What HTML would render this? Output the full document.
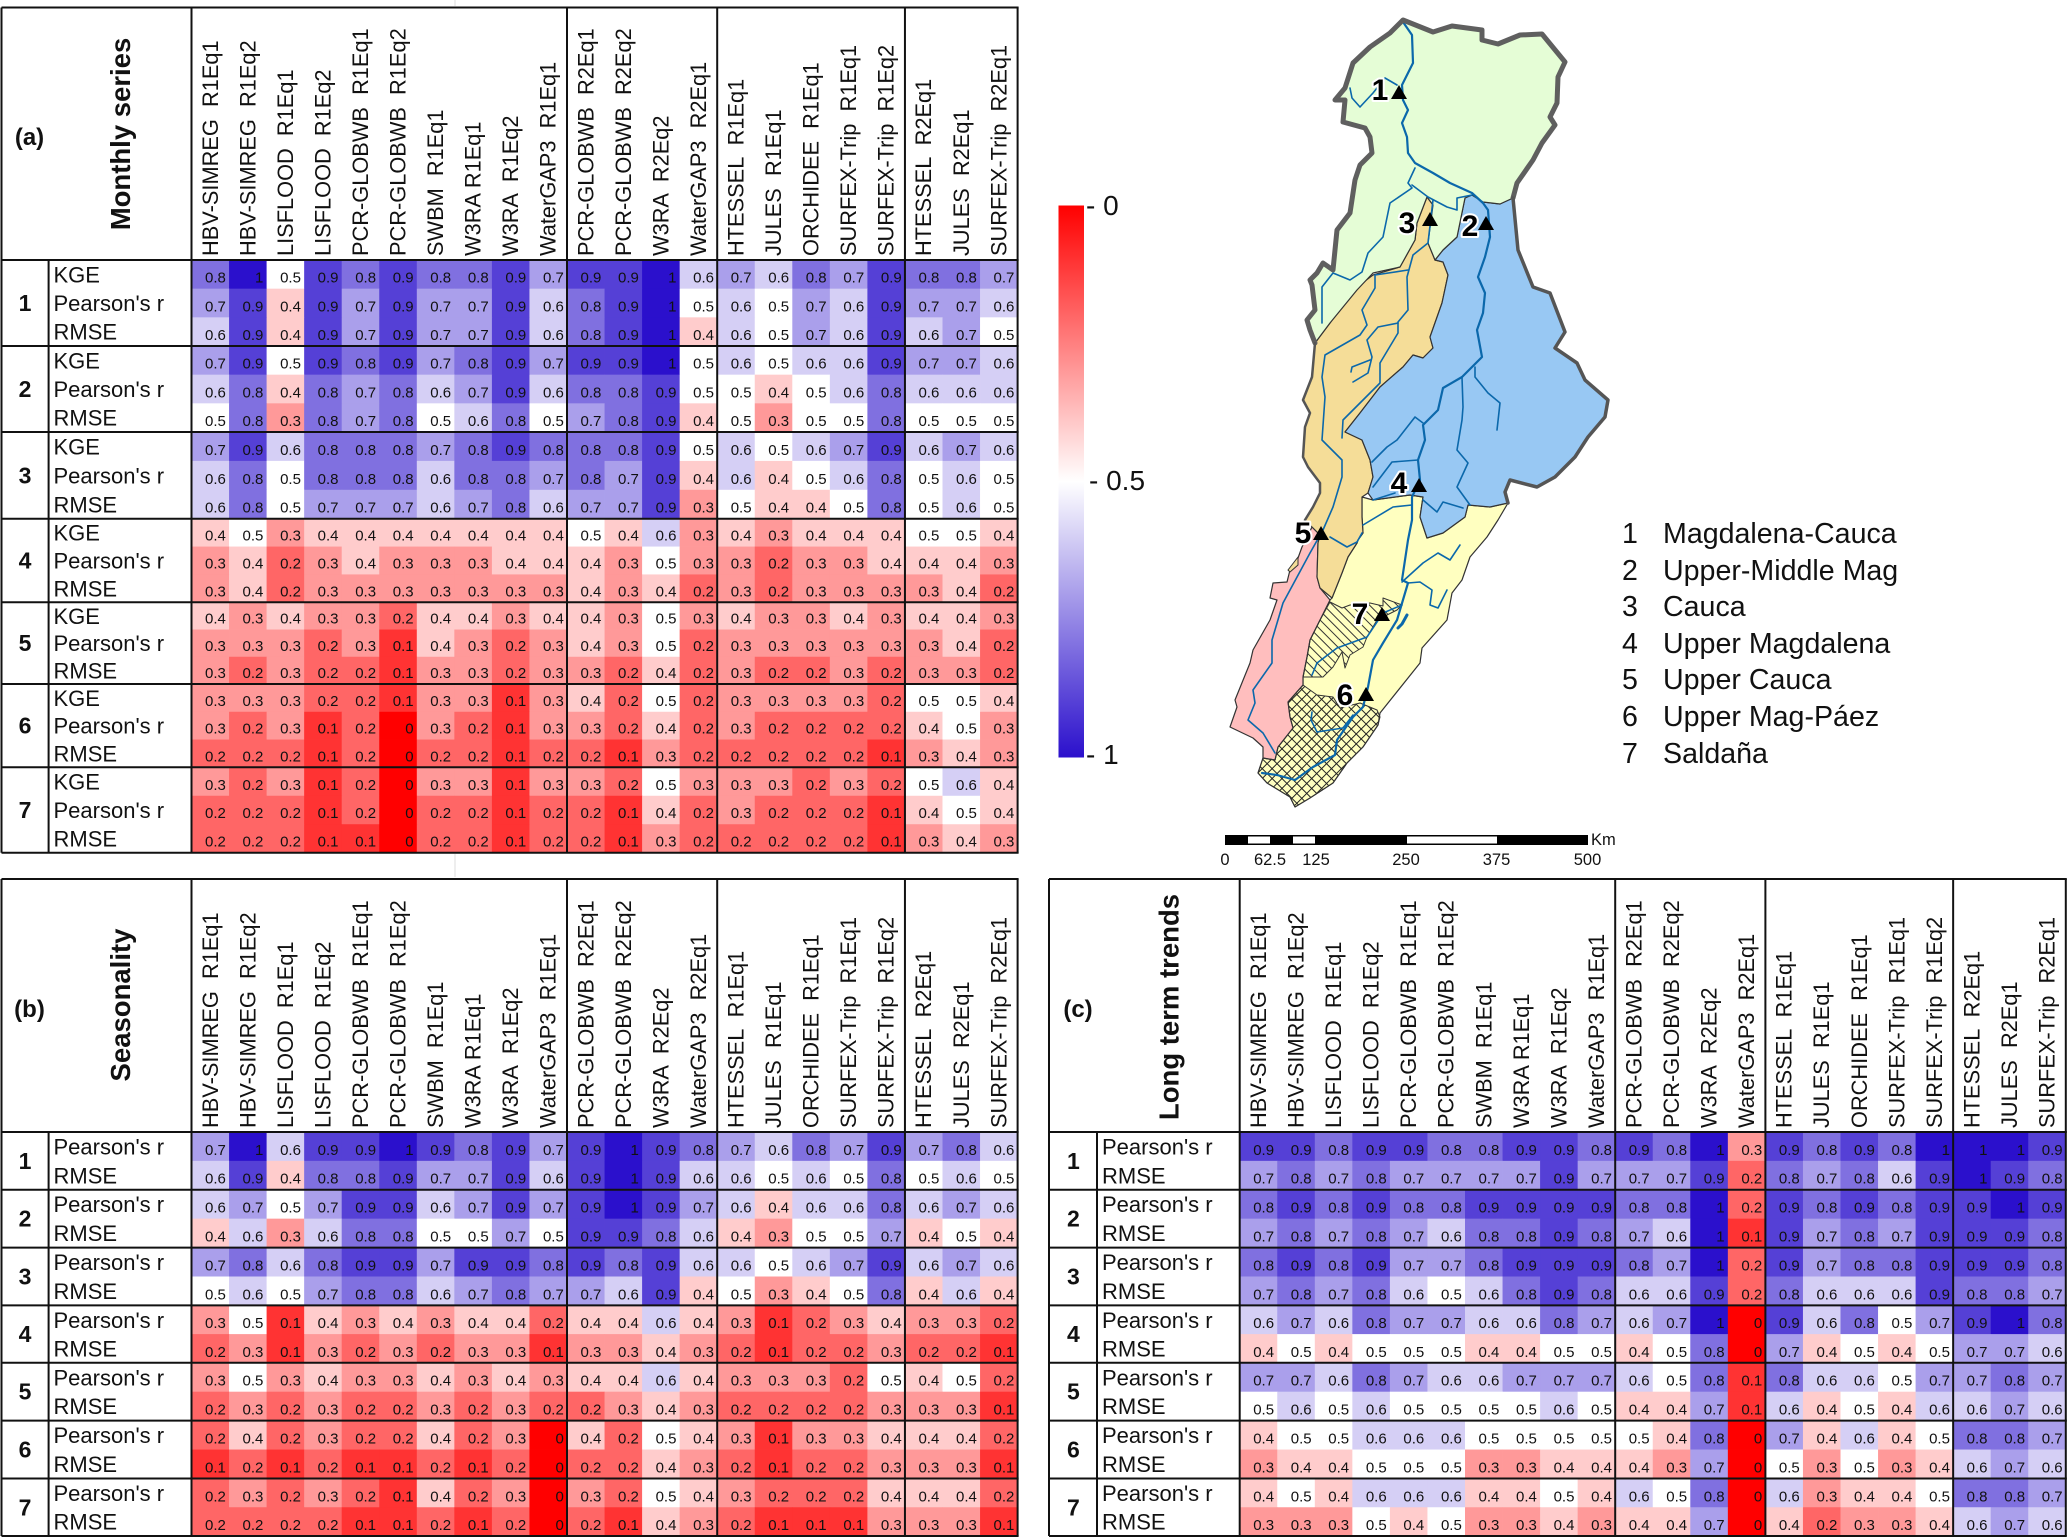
<!DOCTYPE html>
<html lang="en">
<head>
<meta charset="utf-8">
<title>Model skill heatmaps and Magdalena-Cauca basin map</title>
<style>
html,body{margin:0;padding:0;background:#fff;}
svg{display:block;}
text{font-family:"Liberation Sans",sans-serif;fill:#111;white-space:pre;}
</style>
</head>
<body>
<svg id="figure" xmlns="http://www.w3.org/2000/svg" width="2067" height="1537" viewBox="0 0 2067 1537">
<defs>
<linearGradient id="colorbar-gradient" x1="0" y1="0" x2="0" y2="1">
<stop offset="0" stop-color="#ff0000"/>
<stop offset="0.5" stop-color="#ffffff"/>
<stop offset="1" stop-color="#2b10cc"/>
</linearGradient>
<pattern id="hatch-single" patternUnits="userSpaceOnUse" width="6.5" height="6.5" patternTransform="rotate(-45)">
<line x1="1" y1="0" x2="1" y2="6.5" stroke="#333" stroke-width="1"/>
</pattern>
<pattern id="hatch-cross" patternUnits="userSpaceOnUse" width="7" height="7" patternTransform="rotate(45)">
<line x1="1" y1="0" x2="1" y2="7" stroke="#222" stroke-width="1"/>
<line x1="0" y1="1" x2="7" y2="1" stroke="#222" stroke-width="1"/>
</pattern>
</defs>

<rect width="2067" height="1537" fill="#ffffff"/>
<line x1="455" y1="0" x2="455" y2="6" stroke="#ddd" stroke-width="1"/>
<line x1="455" y1="854" x2="455" y2="877" stroke="#ddd" stroke-width="1"/>

<g id="panels"></g>

<g>
<rect x="1058.5" y="205.5" width="25.5" height="552" fill="url(#colorbar-gradient)"/>
<text x="1086" y="215" font-size="28">- 0</text>
<text x="1089" y="490" font-size="28">- 0.5</text>
<text x="1086" y="764" font-size="28">- 1</text>
</g>

<g stroke-linejoin="round" stroke-linecap="round">
<polygon fill="#ffffc0" stroke="#333" stroke-width="1.2" points="1362,497 1373,500 1410,495 1423,497 1420,517 1427,538 1443,533 1465,517 1468,505 1490,507 1508,503 1498,520 1487,537 1470,557 1462,580 1452,593 1447,620 1422,648 1420,663 1380,713 1378,725 1363,747 1347,763 1333,783 1310,798 1295,807 1290,797 1267,783 1258,773 1263,758 1275,760 1278,747 1293,728 1290,717 1288,702 1303,685 1303,677 1307,657 1310,640 1320,620 1330,600 1332,598 1342,573 1348,557 1357,543 1358,540 1363,533 1362,517"/>
<polygon fill="#ffbebe" stroke="#333" stroke-width="1.2" points="1312,527 1320,535 1318,543 1317,577 1320,588 1330,600 1320,620 1310,640 1307,657 1303,677 1303,685 1288,702 1290,717 1293,728 1278,747 1275,760 1263,758 1263,747 1253,738 1230,727 1237,707 1235,700 1250,663 1253,650 1270,620 1277,600 1270,598 1273,583 1287,582 1290,570 1298,558 1302,547"/>
<polygon fill="#f5dd98" stroke="#333" stroke-width="1.2" points="1427,197 1433,205 1428,243 1435,260 1443,262 1448,275 1442,303 1430,337 1433,348 1423,358 1413,355 1403,367 1380,387 1360,413 1345,432 1362,440 1370,460 1373,477 1368,493 1362,497 1362,517 1363,533 1358,540 1357,543 1348,557 1342,573 1332,598 1320,588 1317,577 1318,543 1320,535 1312,527 1305,520 1313,507 1320,493 1320,483 1308,467 1303,457 1305,427 1310,413 1303,400 1312,377 1315,343 1330,323 1353,290 1373,275 1400,267 1415,240 1417,223"/>
<polygon fill="#f5dd98" stroke="#333" stroke-width="1" points="1288,570 1298,557 1298,565 1290,572"/>
<polygon fill="#98c8f3" stroke="#333" stroke-width="1.2" points="1465,198 1472,195 1483,202 1500,204 1513,198 1518,250 1533,287 1550,293 1565,332 1555,348 1577,363 1585,380 1608,400 1605,417 1588,437 1575,457 1555,477 1537,487 1510,480 1505,492 1508,503 1490,507 1468,505 1465,517 1443,533 1427,538 1420,517 1423,497 1410,495 1373,500 1368,493 1373,477 1370,460 1362,440 1345,432 1360,413 1380,387 1403,367 1413,355 1423,358 1433,348 1430,337 1442,303 1448,275 1443,262 1435,260 1443,250 1457,237"/>
<polygon fill="#e5fdd6" stroke="#333" stroke-width="1.2" points="1403,20 1433,32 1452,26 1482,30 1482,40 1498,44 1520,35 1542,34 1565,62 1558,77 1557,103 1550,117 1555,125 1542,143 1533,160 1517,183 1513,198 1500,204 1483,202 1472,195 1465,198 1457,237 1443,250 1435,260 1428,243 1433,205 1427,197 1417,223 1415,240 1400,267 1373,273 1357,290 1330,323 1315,343 1310,330 1307,320 1315,310 1312,285 1310,280 1317,273 1323,263 1333,270 1337,230 1350,213 1355,180 1360,165 1372,153 1370,137 1365,128 1343,122 1345,100 1335,100 1345,88 1353,63 1370,47 1390,33"/>
<polygon fill="url(#hatch-single)" stroke="#333" stroke-width="1" points="1330,602 1342,608 1350,605 1370,603 1383,606 1383,598 1402,605 1397,610 1377,620 1367,637 1363,647 1350,655 1345,668 1342,652 1333,667 1323,677 1303,677 1307,657 1310,640 1320,620"/>
<polygon fill="url(#hatch-cross)" stroke="#333" stroke-width="1" points="1303,685 1317,695 1333,697 1340,708 1360,703 1377,710 1380,717 1378,725 1363,747 1347,763 1333,783 1310,798 1295,807 1290,797 1267,783 1258,773 1263,758 1275,760 1278,747 1293,728 1290,717 1288,702"/>

<g fill="none" stroke="#0b68ab" stroke-width="1.6">
<polyline stroke-width="2.2" points="1403,22 1412,35 1413,63 1402,85 1403,100 1408,110 1402,123 1407,137 1408,153 1415,163 1433,173 1450,183 1472,193 1483,203 1488,210 1490,237 1485,257 1478,277 1485,293 1483,313 1477,330 1482,357 1462,377 1443,388 1438,410 1423,425 1425,440 1418,460 1420,480 1412,497 1412,520 1408,540 1402,580 1408,583 1397,620 1383,643 1373,660 1368,687 1363,707 1353,717 1337,740 1335,755 1313,767 1295,780 1277,775 1262,773"/>
<polyline points="1350,88 1352,98 1360,107 1373,93 1385,78 1397,85"/>
<polyline points="1415,168 1408,183 1412,188 1390,203 1383,237 1368,253 1362,272 1350,280 1333,273 1322,287 1322,323"/>
<polyline points="1412,185 1428,197 1447,207 1457,210 1457,198 1472,195"/>
<polyline points="1433,200 1428,243 1413,255 1407,277 1408,310 1398,322 1398,333 1380,363 1380,383 1343,420 1342,438"/>
<polyline points="1408,270 1375,275 1375,288 1362,310 1367,325 1360,335 1325,355 1322,377 1325,397 1322,440 1342,460 1342,477 1333,507 1323,530 1310,553 1283,603 1272,640 1272,663 1253,690 1255,703 1248,720 1263,733 1275,753"/>
<polyline points="1398,323 1378,327 1367,340 1372,357 1368,373 1353,382"/>
<polyline points="1370,360 1352,367 1351,372"/>
<polyline points="1330,537 1347,547 1357,542 1362,533"/>
<polyline points="1462,377 1463,407 1462,420 1457,450 1468,463 1457,487 1470,505"/>
<polyline points="1475,367 1475,377 1488,393 1500,403 1497,430"/>
<polyline points="1423,423 1415,417 1397,440 1387,447 1372,462"/>
<polyline points="1418,460 1392,462 1373,487"/>
<polyline points="1423,500 1437,512 1443,502 1463,508"/>
<polyline points="1373,500 1395,493"/>
<polyline points="1412,505 1393,507 1363,525"/>
<polyline points="1402,582 1423,563 1438,553 1450,560 1460,545"/>
<polyline points="1408,583 1420,582 1432,590 1430,605 1438,608 1447,590"/>
<polyline stroke-width="3" points="1398,628 1402,624 1407,615"/>
<polyline points="1402,605 1383,613 1367,637 1337,648 1317,663 1312,675"/>
<polyline points="1353,715 1343,728 1317,732 1311,720 1312,712"/>
</g>

<polyline fill="none" stroke="#5f5f5f" stroke-width="5" points="1513,198 1517,183 1533,160 1542,143 1555,125 1550,117 1557,103 1558,77 1565,62 1542,34 1520,35 1498,44 1482,40 1482,30 1452,26 1433,32 1403,20 1390,33 1370,47 1353,63 1345,88 1335,100 1345,100 1343,122 1365,128 1370,137 1372,153 1360,165 1355,180 1350,213 1337,230 1333,270 1323,263 1317,273 1310,280 1312,285 1315,310 1307,320 1310,330 1315,343"/>
<polyline fill="none" stroke="#555" stroke-width="3.5" points="1513,198 1518,250 1533,287 1550,293 1565,332 1555,348 1577,363 1585,380 1608,400 1605,417 1588,437 1575,457 1555,477 1537,487 1510,480 1505,492 1508,503"/>
<polyline fill="none" stroke="#555" stroke-width="2.5" points="1315,343 1312,377 1303,400 1310,413 1305,427 1303,457 1308,467 1320,483 1320,493 1313,507 1305,520"/>

<g>
<polygon fill="#000" points="1391,99 1407,99 1399,85"/>
<polygon fill="#000" points="1478,230 1494,230 1486,216"/>
<polygon fill="#000" points="1422,226 1438,226 1430,212"/>
<polygon fill="#000" points="1411,492 1427,492 1419,478"/>
<polygon fill="#000" points="1313,540 1329,540 1321,526"/>
<polygon fill="#000" points="1358,701 1374,701 1366,687"/>
<polygon fill="#000" points="1374,621 1390,621 1382,607"/>
</g>
<g font-size="30" font-weight="bold" text-anchor="middle" style="paint-order:stroke" stroke="#fff" stroke-width="4">
<text x="1380" y="100" style="paint-order:stroke;fill:#000">1</text>
<text x="1470" y="236" style="paint-order:stroke;fill:#000">2</text>
<text x="1407" y="233" style="paint-order:stroke;fill:#000">3</text>
<text x="1399" y="493" style="paint-order:stroke;fill:#000">4</text>
<text x="1303" y="543" style="paint-order:stroke;fill:#000">5</text>
<text x="1345" y="705" style="paint-order:stroke;fill:#000">6</text>
<text x="1360" y="624" style="paint-order:stroke;fill:#000">7</text>
</g>
</g>

<g font-size="28.6">
<text x="1622" y="543">1</text><text x="1663" y="543">Magdalena-Cauca</text>
<text x="1622" y="580">2</text><text x="1663" y="580">Upper-Middle Mag</text>
<text x="1622" y="616">3</text><text x="1663" y="616">Cauca</text>
<text x="1622" y="653">4</text><text x="1663" y="653">Upper Magdalena</text>
<text x="1622" y="689">5</text><text x="1663" y="689">Upper Cauca</text>
<text x="1622" y="726">6</text><text x="1663" y="726">Upper Mag-Páez</text>
<text x="1622" y="763">7</text><text x="1663" y="763">Saldaña</text>
</g>

<g>
<rect x="1225" y="835" width="363" height="10" fill="#000"/>
<rect x="1248" y="836.5" width="22" height="7" fill="#fff"/>
<rect x="1293" y="836.5" width="22" height="7" fill="#fff"/>
<rect x="1407" y="836.5" width="90" height="7" fill="#fff"/>
<g font-size="16.5" text-anchor="middle">
<text x="1225" y="865">0</text>
<text x="1270" y="865">62.5</text>
<text x="1316" y="865">125</text>
<text x="1406" y="865">250</text>
<text x="1496.5" y="865">375</text>
<text x="1587.5" y="865">500</text>
</g>
<text x="1591" y="845" font-size="16.5">Km</text>
</g>
</svg>

<script>
const modelNames = ["HBV-SIMREG  R1Eq1","HBV-SIMREG  R1Eq2","LISFLOOD  R1Eq1","LISFLOOD  R1Eq2","PCR-GLOBWB  R1Eq1","PCR-GLOBWB  R1Eq2","SWBM  R1Eq1","W3RA R1Eq1","W3RA  R1Eq2","WaterGAP3  R1Eq1","PCR-GLOBWB  R2Eq1","PCR-GLOBWB  R2Eq2","W3RA  R2Eq2","WaterGAP3  R2Eq1","HTESSEL  R1Eq1","JULES  R1Eq1","ORCHIDEE  R1Eq1","SURFEX-Trip  R1Eq1","SURFEX-Trip  R1Eq2","HTESSEL  R2Eq1","JULES  R2Eq1","SURFEX-Trip  R2Eq1"];
const basinNumbers = [1,2,3,4,5,6,7];

const monthlyKGE = [
[.8,1,.5,.9,.8,.9,.8,.8,.9,.7,.9,.9,1,.6,.7,.6,.8,.7,.9,.8,.8,.7],
[.7,.9,.5,.9,.8,.9,.7,.8,.9,.7,.9,.9,1,.5,.6,.5,.6,.6,.9,.7,.7,.6],
[.7,.9,.6,.8,.8,.8,.7,.8,.9,.8,.8,.8,.9,.5,.6,.5,.6,.7,.9,.6,.7,.6],
[.4,.5,.3,.4,.4,.4,.4,.4,.4,.4,.5,.4,.6,.3,.4,.3,.4,.4,.4,.5,.5,.4],
[.4,.3,.4,.3,.3,.2,.4,.4,.3,.4,.4,.3,.5,.3,.4,.3,.3,.4,.3,.4,.4,.3],
[.3,.3,.3,.2,.2,.1,.3,.3,.1,.3,.4,.2,.5,.2,.3,.3,.3,.3,.2,.5,.5,.4],
[.3,.2,.3,.1,.2,0,.3,.3,.1,.3,.3,.2,.5,.3,.3,.3,.2,.3,.2,.5,.6,.4]];
const monthlyPearson = [
[.7,.9,.4,.9,.7,.9,.7,.7,.9,.6,.8,.9,1,.5,.6,.5,.7,.6,.9,.7,.7,.6],
[.6,.8,.4,.8,.7,.8,.6,.7,.9,.6,.8,.8,.9,.5,.5,.4,.5,.6,.8,.6,.6,.6],
[.6,.8,.5,.8,.8,.8,.6,.8,.8,.7,.8,.7,.9,.4,.6,.4,.5,.6,.8,.5,.6,.5],
[.3,.4,.2,.3,.4,.3,.3,.3,.4,.4,.4,.3,.5,.3,.3,.2,.3,.3,.4,.4,.4,.3],
[.3,.3,.3,.2,.3,.1,.4,.3,.2,.3,.4,.3,.5,.2,.3,.3,.3,.3,.3,.3,.4,.2],
[.3,.2,.3,.1,.2,0,.3,.2,.1,.3,.3,.2,.4,.2,.3,.2,.2,.2,.2,.4,.5,.3],
[.2,.2,.2,.1,.2,0,.2,.2,.1,.2,.2,.1,.4,.2,.3,.2,.2,.2,.1,.4,.5,.4]];
const monthlyRMSE = [
[.6,.9,.4,.9,.7,.9,.7,.7,.9,.6,.8,.9,1,.4,.6,.5,.7,.6,.9,.6,.7,.5],
[.5,.8,.3,.8,.7,.8,.5,.6,.8,.5,.7,.8,.9,.4,.5,.3,.5,.5,.8,.5,.5,.5],
[.6,.8,.5,.7,.7,.7,.6,.7,.8,.6,.7,.7,.9,.3,.5,.4,.4,.5,.8,.5,.6,.5],
[.3,.4,.2,.3,.3,.3,.3,.3,.3,.3,.4,.3,.4,.2,.3,.2,.3,.3,.3,.3,.4,.2],
[.3,.2,.3,.2,.2,.1,.3,.3,.2,.3,.3,.2,.4,.2,.3,.2,.2,.3,.2,.3,.3,.2],
[.2,.2,.2,.1,.2,0,.2,.2,.1,.2,.2,.1,.3,.2,.2,.2,.2,.2,.1,.3,.4,.3],
[.2,.2,.2,.1,.1,0,.2,.2,.1,.2,.2,.1,.3,.2,.2,.2,.2,.2,.1,.3,.4,.3]];

const seasonPearson = [
[.7,1,.6,.9,.9,1,.9,.8,.9,.7,.9,1,.9,.8,.7,.6,.8,.7,.9,.7,.8,.6],
[.6,.7,.5,.7,.9,.9,.6,.7,.9,.7,.9,1,.9,.7,.6,.4,.6,.6,.8,.6,.7,.6],
[.7,.8,.6,.8,.9,.9,.7,.9,.9,.8,.9,.8,.9,.6,.6,.5,.6,.7,.9,.6,.7,.6],
[.3,.5,.1,.4,.3,.4,.3,.4,.4,.2,.4,.4,.6,.4,.3,.1,.2,.3,.4,.3,.3,.2],
[.3,.5,.3,.4,.3,.3,.4,.3,.4,.3,.4,.4,.6,.4,.3,.3,.3,.2,.5,.4,.5,.2],
[.2,.4,.2,.3,.2,.2,.4,.2,.3,0,.4,.2,.5,.4,.3,.1,.3,.3,.4,.4,.4,.2],
[.2,.3,.2,.3,.2,.1,.4,.2,.3,0,.3,.2,.5,.4,.3,.2,.2,.2,.4,.4,.4,.2]];
const seasonRMSE = [
[.6,.9,.4,.8,.8,.9,.7,.7,.9,.6,.9,1,.9,.6,.6,.5,.6,.5,.8,.5,.6,.5],
[.4,.6,.3,.6,.8,.8,.5,.5,.7,.5,.9,.9,.8,.6,.4,.3,.5,.5,.7,.4,.5,.4],
[.5,.6,.5,.7,.8,.8,.6,.7,.8,.7,.7,.6,.9,.4,.5,.3,.4,.5,.8,.4,.6,.4],
[.2,.3,.1,.3,.2,.3,.2,.3,.3,.1,.3,.3,.4,.3,.2,.1,.2,.2,.3,.2,.2,.1],
[.2,.3,.2,.3,.2,.2,.3,.2,.3,.2,.2,.3,.4,.3,.2,.2,.2,.2,.3,.3,.3,.1],
[.1,.2,.1,.2,.1,.1,.2,.1,.2,0,.2,.2,.4,.3,.2,.1,.2,.2,.3,.3,.3,.1],
[.2,.2,.2,.2,.1,.1,.2,.1,.2,0,.2,.1,.4,.3,.2,.1,.1,.1,.3,.3,.3,.1]];

const trendPearson = [
[.9,.9,.8,.9,.9,.8,.8,.9,.9,.8,.9,.8,1,.3,.9,.8,.9,.8,1,1,1,.9],
[.8,.9,.8,.9,.8,.8,.9,.9,.9,.9,.8,.8,1,.2,.9,.8,.9,.8,.9,.9,1,.9],
[.8,.9,.8,.9,.7,.7,.8,.9,.9,.9,.8,.7,1,.2,.9,.7,.8,.8,.9,.9,.9,.8],
[.6,.7,.6,.8,.7,.7,.6,.6,.8,.7,.6,.7,1,0,.9,.6,.8,.5,.7,.9,1,.8],
[.7,.7,.6,.8,.7,.6,.6,.7,.7,.7,.6,.5,.8,.1,.8,.6,.6,.5,.7,.7,.8,.7],
[.4,.5,.5,.6,.6,.6,.5,.5,.5,.5,.5,.4,.8,0,.7,.4,.6,.4,.5,.8,.8,.7],
[.4,.5,.4,.6,.6,.6,.4,.4,.5,.4,.6,.5,.8,0,.6,.3,.4,.4,.5,.8,.8,.7]];
const trendRMSE = [
[.7,.8,.7,.8,.7,.7,.7,.7,.9,.7,.7,.7,.9,.2,.8,.7,.8,.6,.9,1,.9,.8],
[.7,.8,.7,.8,.7,.6,.8,.8,.9,.8,.7,.6,1,.1,.9,.7,.8,.7,.9,.9,.9,.8],
[.7,.8,.7,.8,.6,.5,.6,.8,.9,.8,.6,.6,.9,.2,.8,.6,.6,.6,.9,.8,.8,.7],
[.4,.5,.4,.5,.5,.5,.4,.4,.5,.5,.4,.5,.8,0,.7,.4,.5,.4,.5,.7,.7,.6],
[.5,.6,.5,.6,.5,.5,.5,.5,.6,.5,.4,.4,.7,.1,.6,.4,.5,.4,.6,.6,.7,.6],
[.3,.4,.4,.5,.5,.5,.3,.3,.4,.4,.4,.3,.7,0,.5,.3,.5,.3,.4,.6,.7,.6],
[.3,.3,.3,.5,.4,.5,.3,.3,.4,.3,.4,.4,.7,0,.4,.2,.3,.3,.4,.6,.7,.6]];

const SVG_NS = "http://www.w3.org/2000/svg";
const panelRoot = document.getElementById("panels");

function make(tag, attrs, parent) {
  const el = document.createElementNS(SVG_NS, tag);
  for (const key in attrs) el.setAttribute(key, attrs[key]);
  parent.appendChild(el);
  return el;
}

function colorScale(value) {
  const low = [255, 0, 0], mid = [255, 255, 255], high = [43, 16, 204];
  const from = value <= 0.5 ? low : mid;
  const to = value <= 0.5 ? mid : high;
  const t = value <= 0.5 ? value / 0.5 : (value - 0.5) / 0.5;
  return "rgb(" + from.map((c, i) => Math.round(c + (to[i] - c) * t)).join(",") + ")";
}

function drawPanel(panel) {
  const g = make("g", {}, panelRoot);
  
  

  const colWidth = panel.colWidth;
  const xScale = col => panel.dataLeft + col * colWidth;
  const metricCount = panel.metrics.length;

  panel.metrics.forEach((metric, metricIndex) => {
    metric.values.forEach((row, basinIndex) => {
      const top = panel.rowEdges[basinIndex];
      const bottom = panel.rowEdges[basinIndex + 1];
      const subHeight = (bottom - top) / metricCount;
      const yTop = top + metricIndex * subHeight;
      row.forEach((value, col) => {
        const cell = make("rect", {
          x: xScale(col), y: yTop,
          width: colWidth + 0.4, height: subHeight + 0.4,
          fill: colorScale(value)
        }, g);
        
        
      });
      row.forEach((value, col) => {
        const label = make("text", {
          x: xScale(col) + colWidth - 3.2, y: yTop + subHeight - 6,
          "text-anchor": "end", "font-size": 15
        }, g);
        
        
        label.textContent = String(value);
      });
      const metricLabel = make("text", {
        x: panel.labelX, y: yTop + subHeight / 2 + 8,
        "font-size": 22
      }, g);
      
      
      metricLabel.textContent = metric.label;
    });
  });

  basinNumbers.forEach((num, i) => {
    const rowLabel = make("text", {
      x: panel.numberX,
      y: (panel.rowEdges[i] + panel.rowEdges[i + 1]) / 2 + 8,
      "text-anchor": "middle", "font-size": 23, "font-weight": "bold"
    }, g);
    
    
    rowLabel.textContent = num;
  });

  modelNames.forEach((name, col) => {
    const cx = xScale(col) + colWidth / 2 + 7.5;
    const cy = panel.headerBottom - 4;
    const head = make("text", {
      x: cx, y: cy, "font-size": 21.8,
      transform: "rotate(-90 " + cx + " " + cy + ")"
    }, g);
    
    
    head.textContent = name;
  });

  const title = make("text", {
    x: panel.titleX, y: panel.titleY, "font-size": 27.5, "font-weight": "bold",
    "text-anchor": "middle",
    transform: "rotate(-90 " + panel.titleX + " " + panel.titleY + ")"
  }, g);
  
  
  title.textContent = panel.title;

  const tag = make("text", {
    x: panel.tagX, y: panel.tagY, "font-size": 24, "font-weight": "bold", "text-anchor": "middle"
  }, g);
  
  
  tag.textContent = panel.tag;

  const right = xScale(modelNames.length);
  const lineStyle = { stroke: "#111", "stroke-width": 2 };
  [panel.headerTop, ...panel.rowEdges].forEach((y, i) => {
    const rule = make("line", Object.assign({ x1: panel.left, x2: right + 1, y1: y, y2: y }, lineStyle), g);
    
    
  });
  const bottomEdge = panel.rowEdges[panel.rowEdges.length - 1];
  [panel.left, panel.dataLeft, xScale(10), xScale(14), xScale(19), right].forEach((x, i) => {
    const rule = make("line", Object.assign({ x1: x, x2: x, y1: panel.headerTop, y2: bottomEdge }, lineStyle), g);
    
    
  });
  const numberRule = make("line", Object.assign({ x1: panel.numberRuleX, x2: panel.numberRuleX, y1: panel.headerBottom, y2: bottomEdge }, lineStyle), g);
  
  
}

drawPanel({
  slug: "monthly-series", title: "Monthly series", tag: "(a)",
  left: 1.5, dataLeft: 191.5, colWidth: 37.55, numberRuleX: 48.6, labelX: 53.5, numberX: 25,
  headerTop: 7.5, headerBottom: 260,
  rowEdges: [260, 346, 432, 518.7, 602.3, 684, 767.3, 852.7],
  titleX: 130, titleY: 134, tagX: 29.5, tagY: 145,
  metrics: [
    { key: "kge", label: "KGE", values: monthlyKGE },
    { key: "pearson", label: "Pearson's r", values: monthlyPearson },
    { key: "rmse", label: "RMSE", values: monthlyRMSE }
  ]
});

drawPanel({
  slug: "seasonality", title: "Seasonality", tag: "(b)",
  left: 1.5, dataLeft: 191.5, colWidth: 37.55, numberRuleX: 48.6, labelX: 53.5, numberX: 25,
  headerTop: 879, headerBottom: 1132,
  rowEdges: [1132, 1189.7, 1247.6, 1305.4, 1362.8, 1420.6, 1478.5, 1536],
  titleX: 130, titleY: 1005, tagX: 29.5, tagY: 1017,
  metrics: [
    { key: "pearson", label: "Pearson's r", values: seasonPearson },
    { key: "rmse", label: "RMSE", values: seasonRMSE }
  ]
});

drawPanel({
  slug: "long-term-trends", title: "Long term trends", tag: "(c)",
  left: 1049, dataLeft: 1239.7, colWidth: 37.55, numberRuleX: 1097, labelX: 1102, numberX: 1073.4,
  headerTop: 879, headerBottom: 1132,
  rowEdges: [1132, 1189.7, 1247.6, 1305.4, 1362.8, 1420.6, 1478.5, 1536],
  titleX: 1178.5, titleY: 1007, tagX: 1078, tagY: 1017,
  metrics: [
    { key: "pearson", label: "Pearson's r", values: trendPearson },
    { key: "rmse", label: "RMSE", values: trendRMSE }
  ]
});
</script>
</body>
</html>
